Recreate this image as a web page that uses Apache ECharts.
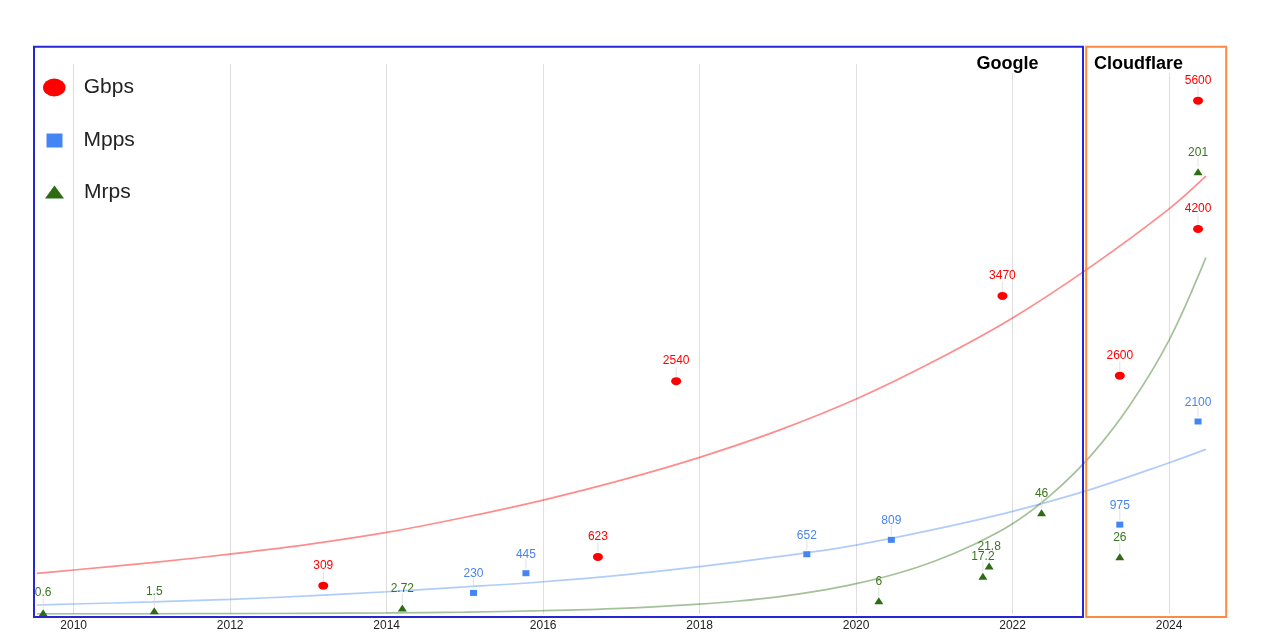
<!DOCTYPE html>
<html>
<head>
<meta charset="utf-8">
<script src="https://cdn.jsdelivr.net/npm/echarts@6/dist/echarts.min.js"></script>
<style>
html, body { margin: 0; padding: 0; background: #ffffff; }
#chart { width: 1266px; height: 644px; }
</style>
</head>
<body>
<div id="chart"></div>
<script>
// ---- data ----
const tickYears = [2010, 2012, 2014, 2016, 2018, 2020, 2022, 2024];

const gbpsYears  = [2013.19, 2016.70, 2017.70, 2021.87, 2023.37, 2024.37, 2024.37];
const gbpsValues = [309, 623, 2540, 3470, 2600, 4200, 5600];

const mppsYears  = [2015.11, 2015.78, 2019.37, 2020.45, 2023.37, 2024.37];
const mppsValues = [230, 445, 652, 809, 975, 2100];

const mrpsYears  = [2009.61, 2011.03, 2014.20, 2020.29, 2021.62, 2021.70, 2022.37, 2023.37, 2024.37];
const mrpsValues = [0.6, 1.5, 2.72, 6, 17.2, 21.8, 46, 26, 201];

// trend curves at sample years
const trendYears = [2009.53, 2010, 2011, 2012, 2013, 2014, 2015, 2016, 2017, 2018, 2019, 2020, 2021, 2022, 2023, 2024, 2024.47];
const gbpsTrend  = [444, 480, 560, 654, 760, 890, 1055, 1243, 1460, 1709, 2000, 2345, 2760, 3230, 3790, 4420, 4776];
const mppsTrend  = [98, 109, 132, 160, 197, 243, 295, 352, 425, 516, 625, 752, 923, 1120, 1360, 1650, 1796];
const mrpsTrendYears = [2009.53, 2010, 2011, 2012, 2013, 2014, 2015, 2016, 2017, 2018, 2018.5, 2019, 2019.5, 2020, 2020.5, 2021, 2021.5, 2022, 2022.5, 2023, 2023.5, 2024, 2024.47];
const mrpsTrend      = [0.04, 0.06, 0.1, 0.17, 0.3, 0.5, 0.87, 1.5, 2.6, 4.5, 5.9, 7.8, 10.4, 13.8, 18.2, 24, 31.5, 41, 54.5, 72, 95, 124.5, 162];

const seriesNames = ['Gbps', 'Mpps', 'Mrps'];
const sectionTitles = ['Google', 'Cloudflare'];

// ---- build ----
const pairs = (xs, ys) => xs.map((x, i) => [x, ys[i]]);
const FONT = "'Liberation Sans', Arial, sans-serif";
const ellipseIcon = 'path://M0,4A5,4 0 1,1 10,4A5,4 0 1,1 0,4Z';

const RED = '#ff0000', BLUE = '#4285f4', GREEN = '#2e6b14';

function pointSeries(name, data, color, labelColor, symbol, size, yAxisIndex) {
  return {
    name: name, type: 'scatter', yAxisIndex: yAxisIndex, data: data,
    symbol: symbol, symbolSize: size, z: 5,
    itemStyle: { color: color, opacity: 1 },
    label: {
      show: true, position: 'top', distance: 10,
      color: labelColor, fontSize: 12, fontFamily: FONT,
      formatter: p => String(p.value[1])
    },
    emphasis: { disabled: true }
  };
}
function stemSeries(data, yAxisIndex) {
  return {
    type: 'scatter', yAxisIndex: yAxisIndex, data: data, silent: true,
    symbol: 'rect', symbolSize: [1, 10], symbolOffset: [0, -9.5], z: 3,
    itemStyle: { color: '#dadada' }, label: { show: false },
    emphasis: { disabled: true }
  };
}
function trendSeries(data, color, yAxisIndex) {
  return {
    type: 'line', yAxisIndex: yAxisIndex, data: data, smooth: 0.35,
    showSymbol: false, symbol: 'none', silent: true, z: 2,
    lineStyle: { color: color, width: 1.7 },
    emphasis: { disabled: true }
  };
}

const gbpsData = pairs(gbpsYears, gbpsValues);
const mppsData = pairs(mppsYears, mppsValues);
const mrpsData = pairs(mrpsYears, mrpsValues);

const legendText = { color: '#222', fontSize: 21, fontFamily: FONT };

const option = {
  backgroundColor: '#ffffff',
  animation: false,
  grid: { left: 33, right: 39, top: 64, bottom: 30 },
  xAxis: {
    type: 'value', min: 2009.48, max: 2024.74,
    axisLine: { show: false },
    axisTick: { show: false, customValues: tickYears },
    axisLabel: {
      customValues: tickYears, color: '#222', fontSize: 12, fontFamily: FONT, margin: 6,
      formatter: v => String(v)
    },
    splitLine: { show: true, lineStyle: { color: '#dedede', width: 1 } }
  },
  yAxis: [
    { type: 'value', min: 0, max: 6000, show: false, splitLine: { show: false } },
    { type: 'value', min: 0, max: 250, show: false, splitLine: { show: false } }
  ],
  legend: [
    { data: [{ name: seriesNames[0], icon: ellipseIcon }], left: 43, top: 77, padding: 0,
      itemWidth: 23, itemHeight: 18, selectedMode: false,
      textStyle: Object.assign({ padding: [0, 0, 0, 13] }, legendText) },
    { data: [{ name: seriesNames[1], icon: 'rect' }], left: 46.5, top: 130, padding: 0,
      itemWidth: 16, itemHeight: 14, selectedMode: false,
      textStyle: Object.assign({ padding: [0, 0, 0, 16] }, legendText) },
    { data: [{ name: seriesNames[2], icon: 'triangle' }], left: 45, top: 181.5, padding: 0,
      itemWidth: 19, itemHeight: 13, selectedMode: false,
      textStyle: Object.assign({ padding: [0, 0, 0, 15] }, legendText) }
  ],
  series: [
    trendSeries(pairs(trendYears, gbpsTrend), 'rgba(255,0,0,0.45)', 0),
    trendSeries(pairs(trendYears, mppsTrend), 'rgba(66,133,244,0.42)', 0),
    trendSeries(pairs(mrpsTrendYears, mrpsTrend), 'rgba(56,118,29,0.45)', 1),
    stemSeries(gbpsData, 0),
    stemSeries(mppsData, 0),
    stemSeries(mrpsData, 1),
    pointSeries(seriesNames[0], gbpsData, RED, RED, ellipseIcon, [10, 8], 0),
    pointSeries(seriesNames[1], mppsData, BLUE, '#4a86e8', 'rect', [7, 6], 0),
    pointSeries(seriesNames[2], mrpsData, GREEN, '#38761d', 'triangle', [9, 7], 1)
  ],
  graphic: [
    { type: 'rect', silent: true, z: 100,
      shape: { x: 34, y: 46.8, width: 1049, height: 570.2 },
      style: { fill: 'none', stroke: '#2626d4', lineWidth: 2 } },
    { type: 'rect', silent: true, z: 100,
      shape: { x: 1086.2, y: 46.8, width: 140, height: 570.2 },
      style: { fill: 'none', stroke: '#fb8a45', lineWidth: 2 } },
    { type: 'text', silent: true, z: 90, x: 1007.5, y: 64,
      style: { text: sectionTitles[0], fill: '#000', font: "bold 18px 'Liberation Sans', Arial, sans-serif",
               align: 'center', verticalAlign: 'middle', backgroundColor: '#fff', padding: [0, 2] } },
    { type: 'text', silent: true, z: 90, x: 1138.4, y: 64,
      style: { text: sectionTitles[1], fill: '#000', font: "bold 18px 'Liberation Sans', Arial, sans-serif",
               align: 'center', verticalAlign: 'middle', backgroundColor: '#fff', padding: [0, 2] } }
  ]
};

const chart = echarts.init(document.getElementById('chart'), null, { renderer: 'canvas' });
chart.setOption(option);
</script>
</body>
</html>
